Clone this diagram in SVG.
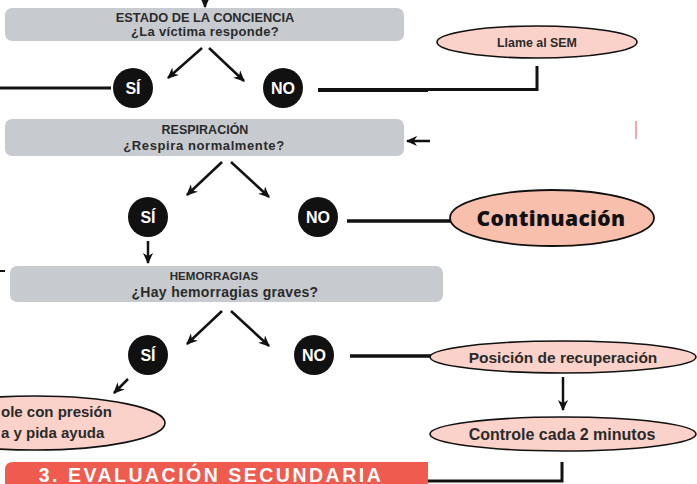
<svg xmlns="http://www.w3.org/2000/svg" width="697" height="484" viewBox="0 0 697 484">
<defs>
<marker id="ah" viewBox="0 0 10 10" refX="9" refY="5" markerWidth="4.5" markerHeight="4.5" orient="auto" markerUnits="strokeWidth">
<path d="M0,0.5 L10,5 L0,9.5 L3,5 z" fill="#111"/>
</marker>
<style>
.box{fill:#c7cacf;}
.t1{font-family:"Liberation Sans",Arial,sans-serif;font-weight:bold;font-size:12.5px;fill:#2a2a2a;text-anchor:middle;}
.t2{font-family:"Liberation Sans",Arial,sans-serif;font-weight:bold;font-size:12.5px;fill:#2a2a2a;text-anchor:middle;}
.c{fill:#111;}
.ct{font-family:"Liberation Sans",Arial,sans-serif;font-weight:bold;font-size:16px;fill:#fff;text-anchor:middle;}
.pink{fill:#fbd2c9;stroke:#111;stroke-width:1.6;}
.pt{font-family:"Liberation Sans",Arial,sans-serif;font-weight:bold;font-size:15.5px;fill:#2a2a2a;text-anchor:middle;}
.ln{stroke:#111;fill:none;}
.ar{stroke:#111;stroke-width:2.5;fill:none;marker-end:url(#ah);}
</style>
</defs>

<g id="connectors">
<path class="ar" d="M205,0 L205,7"/>
<path class="ar" d="M202,48 L168,78"/>
<path class="ar" d="M209,48 L244,81"/>
<path class="ln" stroke-width="3" d="M0,88 L111,88"/>
<path class="ln" stroke-width="4" d="M318,90 L428,90"/>
<path class="ln" stroke-width="3" d="M428,89.5 L537,89.5 L537,66"/>
<path class="ar" d="M430,141 L407,141"/>
<path class="ar" d="M222,162 L187,195"/>
<path class="ar" d="M231,162 L269,197"/>
<path class="ln" stroke-width="3.5" d="M347,221 L452,221"/>
<path class="ar" d="M148,241 L148,263"/>
<path class="ln" stroke-width="2" d="M0,271 L5,271"/>
<path class="ar" d="M222,311 L187,344"/>
<path class="ar" d="M231,311 L269,346"/>
<path class="ln" stroke-width="3.5" d="M350,356 L432,356"/>
<path class="ar" d="M128,379 L114,393"/>
<path class="ar" d="M563,377 L563,410"/>
<path class="ln" stroke-width="3" d="M562,462 L562,481 L428,481"/>
<path d="M636,121 L636,139" stroke="#e8707a" stroke-width="1.2"/>
</g>

<g id="estado">
<rect class="box" x="5" y="8" width="399" height="33" rx="7"/>
<text class="t1" x="205" y="21.5" style="font-size:12.8px">ESTADO DE LA CONCIENCIA</text>
<text class="t2" x="205" y="36" style="font-size:13px;letter-spacing:0.3px">¿La víctima responde?</text>
</g>
<g id="si1"><circle class="c" cx="133" cy="88" r="20"/><text class="ct" x="133" y="94">SÍ</text></g>
<g id="no1"><circle class="c" cx="283" cy="88" r="20"/><text class="ct" x="283" y="94">NO</text></g>
<g id="sem"><ellipse class="pink" cx="537" cy="42" rx="100" ry="16"/><text class="pt" x="537" y="46.5" style="font-size:12.4px">Llame al SEM</text></g>

<g id="respiracion">
<rect class="box" x="5" y="119" width="399" height="37" rx="7"/>
<text class="t1" x="205" y="134">RESPIRACIÓN</text>
<text class="t2" x="204" y="149.5" style="font-size:13px;letter-spacing:0.6px">¿Respira normalmente?</text>
</g>
<g id="si2"><circle class="c" cx="148" cy="217" r="20"/><text class="ct" x="148" y="223">SÍ</text></g>
<g id="no2"><circle class="c" cx="318" cy="217" r="20"/><text class="ct" x="318" y="223">NO</text></g>
<g id="continuacion"><ellipse cx="552" cy="218" rx="102" ry="28" fill="#f8bfad" stroke="#111" stroke-width="1.8"/><text x="551" y="225.5" text-anchor="middle" style="font-family:'Open Sans','Noto Sans',sans-serif;font-weight:800;font-size:21px;fill:#111;letter-spacing:0.4px">Continuación</text></g>

<g id="hemorragias">
<rect class="box" x="10" y="266" width="433" height="36" rx="7"/>
<text class="t1" x="214" y="280" style="font-size:11.5px;letter-spacing:0.1px">HEMORRAGIAS</text>
<text class="t2" x="225" y="297" style="font-size:14px;letter-spacing:0.3px">¿Hay hemorragias graves?</text>
</g>
<g id="si3"><circle class="c" cx="148" cy="355" r="20"/><text class="ct" x="148" y="361">SÍ</text></g>
<g id="no3"><circle class="c" cx="314" cy="355" r="20"/><text class="ct" x="314" y="361">NO</text></g>
<g id="presion"><ellipse class="pink" cx="35" cy="423" rx="130" ry="27"/>
<text class="pt" x="1" y="417" style="text-anchor:start;font-size:15px">ole con presión</text>
<text class="pt" x="1" y="438" style="text-anchor:start;font-size:15px">a y pida ayuda</text></g>
<g id="posicion"><ellipse class="pink" cx="563" cy="357" rx="133" ry="16"/><text class="pt" x="563" y="362.5">Posición de recuperación</text></g>
<g id="controle"><ellipse class="pink" cx="563" cy="434" rx="133" ry="17"/><text class="pt" x="562" y="439.5" style="font-size:16px">Controle cada 2 minutos</text></g>

<g id="banner">
<path d="M5,484 L5,470 Q5,462 13,462 L428,462 L428,484 Z" fill="#f05b50"/>
<text x="211" y="481.5" text-anchor="middle" style="font-family:'Liberation Sans',Arial,sans-serif;font-weight:bold;font-size:19.5px;fill:#fff;letter-spacing:2.5px">3. EVALUACIÓN SECUNDARIA</text>
</g>
</svg>
